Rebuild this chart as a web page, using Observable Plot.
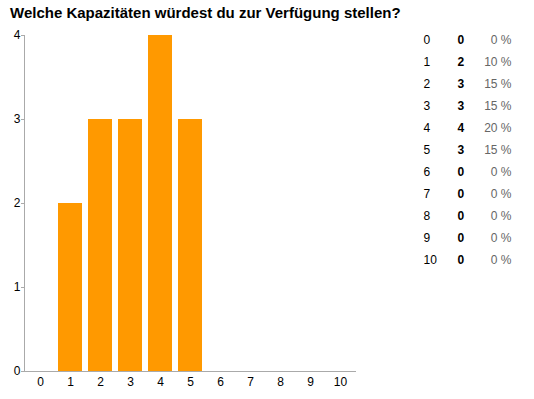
<!DOCTYPE html>
<html>
<head>
<meta charset="utf-8">
<script src="https://cdn.jsdelivr.net/npm/d3@7"></script>
<script src="https://cdn.jsdelivr.net/npm/@observablehq/plot@0.6"></script>
<style>
  html, body { margin: 0; padding: 0; background: #fff; }
  #wrap { position: relative; width: 534px; height: 399px; font-family: "Liberation Sans", Arial, sans-serif; }
  #title { position: absolute; left: 10px; top: 5px; z-index: 2; font: bold 15px "Liberation Sans", Arial, sans-serif; line-height: 16px; color: #000; white-space: nowrap; }
  #chart { position: absolute; left: 0; top: 0; z-index: 1; }
  #chart svg text { font-size: 12px; font-family: "Liberation Sans", Arial, sans-serif; }
  #table { position: absolute; left: 400px; top: 0; z-index: 1; }
</style>
</head>
<body>
<div id="wrap">
  <div id="title">Welche Kapazitäten würdest du zur Verfügung stellen?</div>
  <div id="chart"></div>
  <div id="table"></div>
</div>
<script>
const categories = ["0", "1", "2", "3", "4", "5", "6", "7", "8", "9", "10"];
const counts = [0, 2, 3, 3, 4, 3, 0, 0, 0, 0, 0];
const percents = ["0 %", "10 %", "15 %", "15 %", "20 %", "15 %", "0 %", "0 %", "0 %", "0 %", "0 %"];
const yTicks = [0, 1, 2, 3, 4];

const rows = categories.map((c, i) => ({key: c, count: counts[i], pct: percents[i]}));

const chart = Plot.plot({
  width: 370,
  height: 399,
  marginTop: 35,
  marginBottom: 28,
  marginLeft: 24,
  marginRight: 14,
  style: {fontFamily: "Liberation Sans, Arial, sans-serif", fontSize: "12px", color: "#000", background: "transparent"},
  x: {type: "band", domain: categories, paddingInner: 0.2, paddingOuter: 0.1333, label: null},
  y: {domain: [0, 4], label: null},
  marks: [
    Plot.barY(rows, {x: "key", y: "count", fill: "#ff9900"}),
    Plot.frame({anchor: "left", stroke: "#aaa"}),
    Plot.ruleY([0], {stroke: "#aaa"}),
    Plot.axisY({ticks: yTicks, tickSize: 3, tickPadding: 1, tickFormat: d3.format("d"), stroke: "#aaa", fill: "#000", fontSize: 12, label: null}),
    Plot.axisX({tickSize: 0, tickPadding: 6, fill: "#000", fontSize: 12, label: null})
  ]
});
document.getElementById("chart").appendChild(chart);

const table = Plot.plot({
  width: 134,
  height: 280,
  marginTop: 40,
  marginBottom: 20,
  marginLeft: 23,
  marginRight: 23,
  style: {fontFamily: "Liberation Sans, Arial, sans-serif", fontSize: "12px", background: "transparent"},
  y: {type: "point", domain: categories, padding: 0, axis: null},
  marks: [
    Plot.text(rows, {y: "key", text: "key", frameAnchor: "left", textAnchor: "start", fill: "#000"}),
    Plot.text(rows, {y: "key", text: d => String(d.count), frameAnchor: "left", textAnchor: "start", dx: 34, fill: "#000", fontWeight: "bold"}),
    Plot.text(rows, {y: "key", text: "pct", frameAnchor: "right", textAnchor: "end", fill: "#666"})
  ]
});
document.getElementById("table").appendChild(table);
</script>
</body>
</html>
